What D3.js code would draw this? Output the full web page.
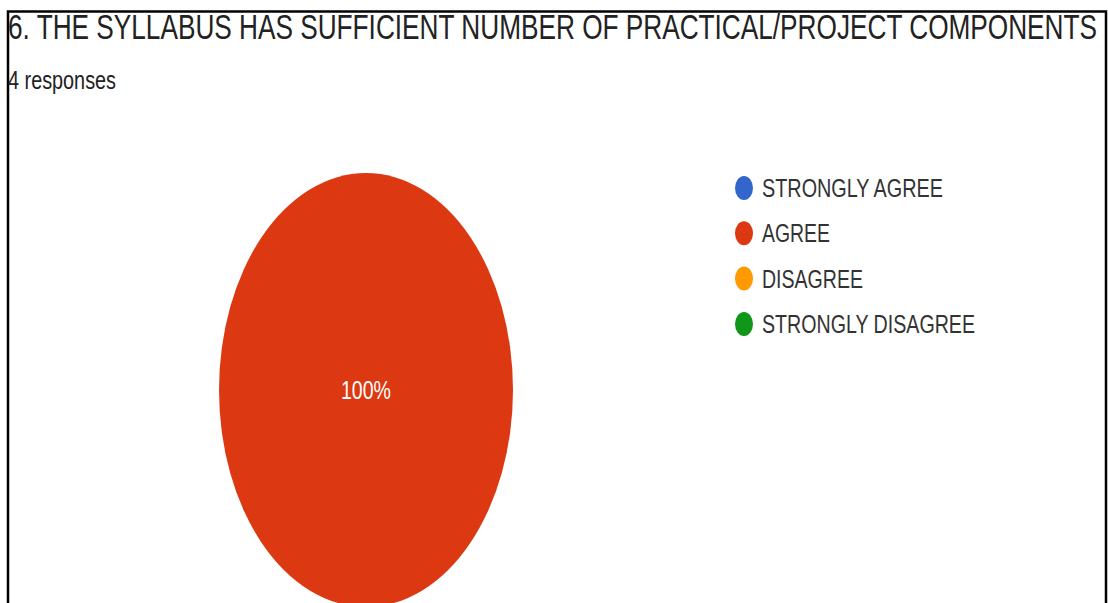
<!DOCTYPE html>
<html lang="en">
<head>
  <meta charset="utf-8">
  <script src="https://cdn.jsdelivr.net/npm/d3@7"></script>
  <style>
    body { margin: 0; background: #fff; }
    svg text { font-family: "Liberation Sans", Arial, sans-serif; }
  </style>
</head>
<body>
  <script>
    // chart data
    const title = "6. THE SYLLABUS HAS SUFFICIENT NUMBER OF PRACTICAL/PROJECT COMPONENTS";
    const subtitle = "4 responses";
    const categories = ["STRONGLY AGREE", "AGREE", "DISAGREE", "STRONGLY DISAGREE"];
    const counts = [0, 4, 0, 0];
    const colors = ["#3366cc", "#dc3912", "#ff9900", "#109618"];

    const w = 1108, h = 603;
    // the screenshot is stretched vertically
    const rx = 147, ry = 217;
    const cx = 366, cy = 390;

    const svg = d3.select("body").append("svg")
      .attr("width", w)
      .attr("height", h);

    // frame round the card (open at the bottom)
    svg.append("path")
      .attr("d", "M8,640 L8,11.5 L1106,11.5 L1106,640")
      .attr("fill", "none")
      .attr("stroke", "#000")
      .attr("stroke-width", 2.5);

    svg.append("text")
      .attr("x", 8)
      .attr("y", 39)
      .attr("font-size", 35)
      .attr("fill", "#222")
      .attr("textLength", 1089)
      .attr("lengthAdjust", "spacingAndGlyphs")
      .text(title);

    svg.append("text")
      .attr("x", 8)
      .attr("y", 89)
      .attr("font-size", 25)
      .attr("fill", "#222")
      .attr("textLength", 108)
      .attr("lengthAdjust", "spacingAndGlyphs")
      .text(subtitle);

    const color = d3.scaleOrdinal().domain(categories).range(colors);
    const total = d3.sum(counts);

    const pie = d3.pie().sort(null).value(d => d.value);
    const slices = pie(categories.map((c, i) => ({ name: c, value: counts[i] })));
    const arc = d3.arc().innerRadius(0).outerRadius(rx);

    const pieG = svg.append("g")
      .attr("transform", "translate(" + cx + "," + cy + ") scale(1," + (ry / rx) + ")");

    pieG.selectAll("path")
      .data(slices.filter(d => d.value > 0))
      .enter()
      .append("path")
      .attr("d", arc)
      .attr("fill", d => color(d.data.name));

    const labelG = svg.append("g").attr("transform", "translate(" + cx + "," + cy + ")");
    labelG.selectAll("text")
      .data(slices.filter(d => d.value > 0))
      .enter()
      .append("text")
      .attr("x", d => d.value === total ? 0 : arc.centroid(d)[0])
      .attr("y", d => (d.value === total ? 0 : arc.centroid(d)[1] * ry / rx) + 9)
      .attr("text-anchor", "middle")
      .attr("font-size", 25)
      .attr("fill", "#fff")
      .attr("textLength", 50)
      .attr("lengthAdjust", "spacingAndGlyphs")
      .text(d => Math.round(d.value / total * 100) + "%");

    // legend
    const legendX = 744, legendY = 188, step = 45.3;
    const legendWidths = { "STRONGLY AGREE": 181, "AGREE": 68, "DISAGREE": 101, "STRONGLY DISAGREE": 213 };

    const legend = svg.append("g").attr("id", "legend");
    const rows = legend.selectAll("g")
      .data(categories)
      .enter()
      .append("g")
      .attr("transform", (d, i) => "translate(" + legendX + "," + (legendY + i * step) + ")");

    rows.append("ellipse")
      .attr("rx", 9)
      .attr("ry", 12)
      .attr("fill", d => color(d));

    rows.append("text")
      .attr("x", 18)
      .attr("y", 9)
      .attr("font-size", 25)
      .attr("fill", "#333")
      .attr("textLength", d => legendWidths[d])
      .attr("lengthAdjust", "spacingAndGlyphs")
      .text(d => d);
  </script>
</body>
</html>
